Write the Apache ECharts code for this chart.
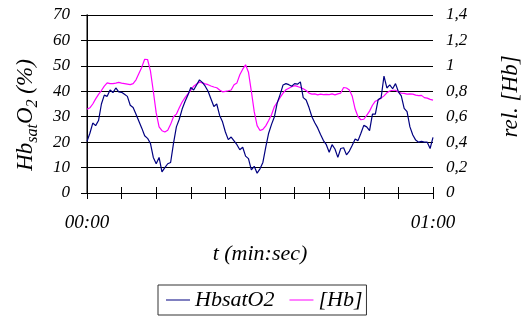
<!DOCTYPE html>
<html>
<head>
<meta charset="utf-8">
<script src="https://cdn.jsdelivr.net/npm/echarts@6/dist/echarts.min.js"></script>
<style>
  html, body { margin: 0; padding: 0; background: #fff; }
  #chart { width: 530px; height: 320px; }
</style>
</head>
<body>
<div id="chart"></div>
<script>
// Sampling step of both recordings, in seconds
const stepSec = 0.5;

// Haemoglobin oxygen saturation, % (left axis)
const hbSatO2 = [
  20.3, 23.5, 27.5, 26.5, 28.5, 35, 38.5, 38, 40.5, 39.5,
  41.3, 39.8, 39.6, 38.8, 38, 34.5, 33.6, 31, 28.2, 25.5,
  22.5, 21.5, 19.5, 14, 11.5, 14, 8.3, 10, 11.5, 12,
  19.5, 26, 29, 33, 36, 38.5, 41.5, 40.5, 42.5, 44.5,
  43.5, 42, 40, 37, 34, 35, 30.5, 28, 24, 21,
  22, 20.5, 19, 17, 18, 14.5, 13.5, 9.1, 10.5, 7.8,
  9.5, 12, 18, 23.5, 27, 30, 35.5, 38.8, 42.5, 43,
  42.6, 42, 43, 42.8, 43.7, 37.5, 36.6, 33.6, 30, 27.6,
  25.6, 23, 20.6, 19, 16, 19, 17.3, 14, 17.5, 17.8,
  15, 16.5, 18.8, 21.2, 20.6, 23.5, 26.6, 26, 24.5, 31,
  31, 36.8, 37.4, 46, 41.3, 42.5, 41, 43, 39.8, 38.2,
  33.3, 32, 26, 22.8, 20.8, 20, 20.3, 20, 20, 17.5,
  21.9
];

// Relative haemoglobin concentration (right axis)
const relHb = [
  0.658, 0.67, 0.70, 0.74, 0.776, 0.806, 0.84, 0.866, 0.86, 0.86,
  0.864, 0.87, 0.864, 0.86, 0.856, 0.852, 0.86, 0.89, 0.94, 0.99,
  1.052, 1.05, 0.96, 0.80, 0.63, 0.52, 0.49, 0.48, 0.494, 0.54,
  0.60, 0.62, 0.67, 0.716, 0.75, 0.78, 0.81, 0.84, 0.858, 0.872,
  0.866, 0.858, 0.852, 0.842, 0.834, 0.828, 0.81, 0.796, 0.80, 0.804,
  0.81, 0.852, 0.866, 0.93, 0.974, 1.008, 0.95, 0.80, 0.64, 0.53,
  0.492, 0.50, 0.528, 0.57, 0.616, 0.68, 0.714, 0.752, 0.786, 0.812,
  0.824, 0.836, 0.844, 0.838, 0.83, 0.82, 0.806, 0.786, 0.778, 0.78,
  0.772, 0.778, 0.774, 0.776, 0.774, 0.78, 0.772, 0.78, 0.786, 0.83,
  0.826, 0.81, 0.76, 0.66, 0.60, 0.576, 0.58, 0.61, 0.644, 0.69,
  0.722, 0.732, 0.746, 0.764, 0.788, 0.802, 0.808, 0.808, 0.794, 0.786,
  0.784, 0.778, 0.78, 0.778, 0.77, 0.766, 0.768, 0.75, 0.746, 0.736,
  0.73
];

// Tick labels
const xTickLabels = ['00:00', '', '', '', '', '', '', '', '', '', '01:00'];
const leftTickLabels = ['0', '10', '20', '30', '40', '50', '60', '70'];
const rightTickLabels = ['0', '0,2', '0,4', '0,6', '0,8', '1', '1,2', '1,4'];

const seriesNames = ['HbsatO2', '[Hb]'];

const toPairs = arr => arr.map((v, i) => [i * stepSec, v]);

const serif = '"Liberation Serif", "DejaVu Serif", serif';
const txt = { fontFamily: serif, fontStyle: 'italic', color: '#000' };

const chart = echarts.init(document.getElementById('chart'), null, { renderer: 'canvas' });

chart.setOption({
  animation: false,
  backgroundColor: '#fff',
  grid: { left: 87, right: 79, top: 15, bottom: 127, containLabel: false },
  legend: {
    left: 158,
    top: 285,
    data: seriesNames,
    icon: 'rect',
    itemWidth: 24,
    itemHeight: 1,
    itemGap: 15,
    padding: [4, 4, 4, 8],
    borderColor: '#333',
    borderWidth: 1,
    textStyle: Object.assign({}, txt, { fontSize: 22 })
  },
  xAxis: [
    {
      type: 'value',
      min: 0, max: 60, interval: 6,
      position: 'bottom',
      name: 't (min:sec)',
      nameLocation: 'middle',
      nameGap: 50,
      nameTextStyle: Object.assign({}, txt, { fontSize: 22 }),
      axisLine: { show: true, lineStyle: { color: '#000', width: 1 } },
      axisTick: { show: true, inside: false, length: 6, lineStyle: { color: '#000' } },
      axisLabel: {
        margin: 20,
        fontFamily: serif, fontStyle: 'italic', fontSize: 19, color: '#000',
        formatter: v => xTickLabels[Math.round(v / 6)] || ''
      },
      splitLine: { show: false }
    },
    {
      type: 'value',
      min: 0, max: 60, interval: 6,
      position: 'bottom',
      axisLine: { show: false },
      axisTick: { show: true, inside: true, length: 6, lineStyle: { color: '#000' } },
      axisLabel: { show: false },
      splitLine: { show: false }
    }
  ],
  yAxis: [
    {
      type: 'value',
      min: 0, max: 70, interval: 10,
      position: 'left',
      name: '{m|Hb}{s|sat}{m|O}{s|2}{m| (%)}',
      nameLocation: 'middle',
      nameRotate: 90,
      nameGap: 46,
      nameTextStyle: {
        padding: [0, 22, 0, 0],
        rich: {
          m: { fontFamily: serif, fontStyle: 'italic', fontSize: 23, color: '#000', lineHeight: 30 },
          s: { fontFamily: serif, fontStyle: 'italic', fontSize: 16, color: '#000', lineHeight: 12, verticalAlign: 'bottom' }
        }
      },
      axisLine: { show: true, lineStyle: { color: '#555', width: 1.5 } },
      axisTick: { show: true, inside: false, length: 6, lineStyle: { color: '#000' } },
      axisLabel: {
        margin: 17,
        fontFamily: serif, fontStyle: 'italic', fontSize: 17, color: '#000',
        formatter: v => leftTickLabels[Math.round(v / 10)]
      },
      splitLine: { show: true, lineStyle: { color: '#000', width: 1 } }
    },
    {
      type: 'value',
      min: 0, max: 1.4, interval: 0.2,
      position: 'right',
      name: 'rel. [Hb]',
      nameLocation: 'middle',
      nameRotate: 90,
      nameGap: 66,
      nameTextStyle: Object.assign({}, txt, { fontSize: 23, padding: [0, 0, 0, 15] }),
      axisLine: { show: true, lineStyle: { color: '#000', width: 1 } },
      axisTick: { show: true, inside: false, length: 6, lineStyle: { color: '#000' } },
      axisLabel: {
        margin: 13,
        fontFamily: serif, fontStyle: 'italic', fontSize: 17, color: '#000',
        formatter: v => rightTickLabels[Math.round(v / 0.2)]
      },
      splitLine: { show: false }
    }
  ],
  series: [
    {
      name: seriesNames[0],
      type: 'line',
      xAxisIndex: 0,
      yAxisIndex: 0,
      data: toPairs(hbSatO2),
      symbol: 'none',
      lineStyle: { color: '#000080', width: 1.2 },
      itemStyle: { color: '#000080' },
      z: 3
    },
    {
      name: seriesNames[1],
      type: 'line',
      xAxisIndex: 0,
      yAxisIndex: 1,
      data: toPairs(relHb),
      symbol: 'none',
      lineStyle: { color: '#ff00ff', width: 1.2 },
      itemStyle: { color: '#ff00ff' },
      z: 2
    }
  ]
});
</script>
</body>
</html>
